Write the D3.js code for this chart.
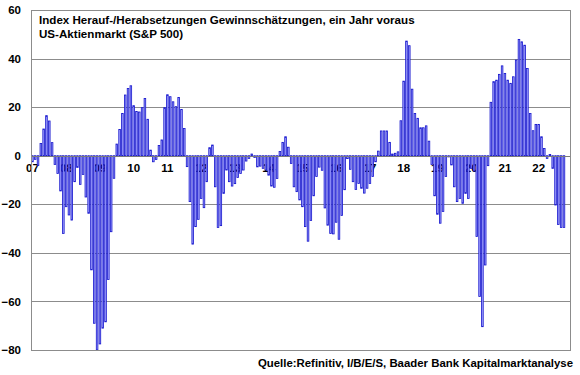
<!DOCTYPE html>
<html>
<head>
<meta charset="utf-8">
<script src="https://cdn.jsdelivr.net/npm/d3@7"></script>
<style>
  html, body { margin: 0; padding: 0; background: #ffffff; }
  svg { display: block; font-family: "Liberation Sans", Arial, sans-serif; font-weight: bold; }
</style>
</head>
<body>
<svg id="chart" width="580" height="375"></svg>
<script>
// ---- data (monthly index, Jan 2007 .. Oct 2022) ----
const yearLabels = ["07","08","09","10","11","12","13","14","15","16","17","18","19","20","21","22"];
const v2007 = [-2.5, -1.5, -4, 5, 11, 16.5, 14.3, 5.4, -3.6, -7.3, -14.5, -32];
const v2008 = [-21, -24.4, -26.5, -10.7, -4.8, -11.8, -7.7, -17, -23.7, -47, -69, -80];
const v2009 = [-77.5, -71, -68.4, -51, -31.3, -9.3, 4.8, 10.8, 17.4, 25, 27.7, 28.8];
const v2010 = [20.6, 18.2, 18, 19.8, 23.6, 15, 2.3, -2.5, -1.6, 4.2, 6.5, 19.8];
const v2011 = [25.1, 24.3, 22.2, 20.2, 24, 19, 11.2, -4.5, -18.9, -36.4, -29.2, -26.2];
const v2012 = [-17.6, -21.4, -10.7, 3.3, 4.4, -12.8, -29.6, -28.8, -15.5, -5.9, -10.7, -12.5];
const v2013 = [-11.5, -9, -7.3, -5.9, -2.2, -1.1, 0.7, -0.7, -4.6, -4.3, -5.2, -5.9];
const v2014 = [-8, -12.5, -13, -9.4, 1.7, 5.5, 7.8, 3.5, -3.2, -12.8, -14.8, -18.2];
const v2015 = [-21, -29.2, -35.2, -26.7, -16.5, -8.6, -4.7, -6, -21.5, -28.6, -32, -32.2];
const v2016 = [-27.4, -34.4, -24.6, -14, -1.2, -5.6, -10.7, -13.9, -11.4, -13.4, -15.4, -13.4];
const v2017 = [-11.4, -8.6, -2.5, 1.9, 10.2, 10.2, 10.2, 5.5, 0.7, 1, 1.6, 14.4];
const v2018 = [30.7, 47.2, 45.3, 27.4, 17.4, 15.4, 11.5, 11.5, 12.3, 6, -3.6, -16.5];
const v2019 = [-24.1, -27.8, -23, -8.6, -0.5, -3.8, -12.8, -18.9, -17.6, -19.6, -15.5, -17.6];
const v2020 = [-5.2, -6.3, -33.3, -58, -70.4, -45, -4.1, 22, 30.5, 31.1, 33.5, 37];
const v2021 = [33.9, 31.1, 29.8, 32.5, 39.4, 47.9, 46.9, 45.5, 35.9, 17.4, 10.3, 12.9];
const v2022 = [12.9, 7.8, 3, -1.1, 0.5, -5.2, -20.3, -28.3, -29.6, -29.6];
const yTicks = [-80, -60, -40, -20, 0, 20, 40, 60];
const titleLines = ["Index Herauf-/Herabsetzungen Gewinnschätzungen, ein Jahr voraus", "US-Aktienmarkt (S&P 500)"];
const sourceText = "Quelle:Refinitiv, I/B/E/S, Baader Bank Kapitalmarktanalyse";

const allValues = [].concat(v2007, v2008, v2009, v2010, v2011, v2012, v2013, v2014,
                            v2015, v2016, v2017, v2018, v2019, v2020, v2021, v2022);
const months = [];
yearLabels.forEach(yy => { for (let m = 1; m <= 12; m++) months.push(yy + "-" + String(m).padStart(2, "0")); });
const data = allValues.map((v, i) => ({ key: months[i], value: v }));

// ---- layout ----
const L = 31, R = 571, T = 10, B = 350;
const FONT = "'Liberation Sans', Arial, sans-serif";
const svg = d3.select("#chart");

const x = d3.scaleBand().domain(months).range([L, R]).padding(0);
const y = d3.scaleLinear().domain([-80, 60]).range([B, T]);

// gridlines
const grid = svg.append("g").attr("transform", `translate(${L},0)`)
  .call(d3.axisLeft(y).tickValues(yTicks.filter(t => t !== 0 && t !== 60 && t !== -80)).tickSize(-(R - L)).tickFormat(""));
grid.select(".domain").remove();
grid.selectAll("line").attr("stroke", "#8c8c8c").attr("stroke-width", 1).attr("shape-rendering", "crispEdges");

// y labels
const yAxis = svg.append("g").attr("transform", `translate(${L},0)`)
  .call(d3.axisLeft(y).tickValues(yTicks).tickSize(0).tickPadding(10));
yAxis.select(".domain").remove();
yAxis.selectAll("text").attr("font-size", 11.5).attr("font-weight", "bold")
  .attr("font-family", FONT).attr("fill", "#000");

// x year labels (drawn under bars)
const xAxis = svg.append("g").attr("transform", `translate(0,${y(0)})`)
  .call(d3.axisBottom(x).tickValues(yearLabels.map(yy => yy + "-01")).tickSize(0).tickPadding(8)
    .tickFormat(k => k.slice(0, 2)));
xAxis.select(".domain").remove();
xAxis.selectAll("text").attr("font-size", 11.5).attr("font-weight", "bold")
  .attr("font-family", FONT).attr("fill", "#000");

// bars
const bw = x.bandwidth();
svg.append("g").selectAll("rect").data(data).join("rect")
  .attr("x", d => x(d.key) + 0.6)
  .attr("width", bw - 1.2)
  .attr("y", d => y(Math.max(0, d.value)))
  .attr("height", d => Math.abs(y(d.value) - y(0)))
  .attr("fill", "#a4a4ff")
  .attr("stroke", "#1414cc")
  .attr("stroke-width", 0.8);

// zero line
svg.append("line").attr("x1", L).attr("x2", R).attr("y1", Math.round(y(0)) + 0.5).attr("y2", Math.round(y(0)) + 0.5)
  .attr("stroke", "#7a7a7a").attr("stroke-width", 1);

// plot border
svg.append("rect").attr("x", L + 0.5).attr("y", T + 0.5).attr("width", R - L - 1).attr("height", B - T)
  .attr("fill", "none").attr("stroke", "#8c8c8c").attr("stroke-width", 1);

// title
svg.append("g").selectAll("text").data(titleLines).join("text")
  .attr("x", 39).attr("y", (d, i) => 24 + i * 13.5)
  .attr("font-size", 11.6).attr("font-weight", "bold").attr("fill", "#000")
  .attr("font-family", FONT)
  .text(d => d);

// source
svg.append("text").attr("x", 573).attr("y", 367).attr("text-anchor", "end")
  .attr("font-size", 11.4).attr("font-weight", "bold").attr("fill", "#000")
  .attr("font-family", FONT)
  .text(sourceText);
</script>
</body>
</html>
